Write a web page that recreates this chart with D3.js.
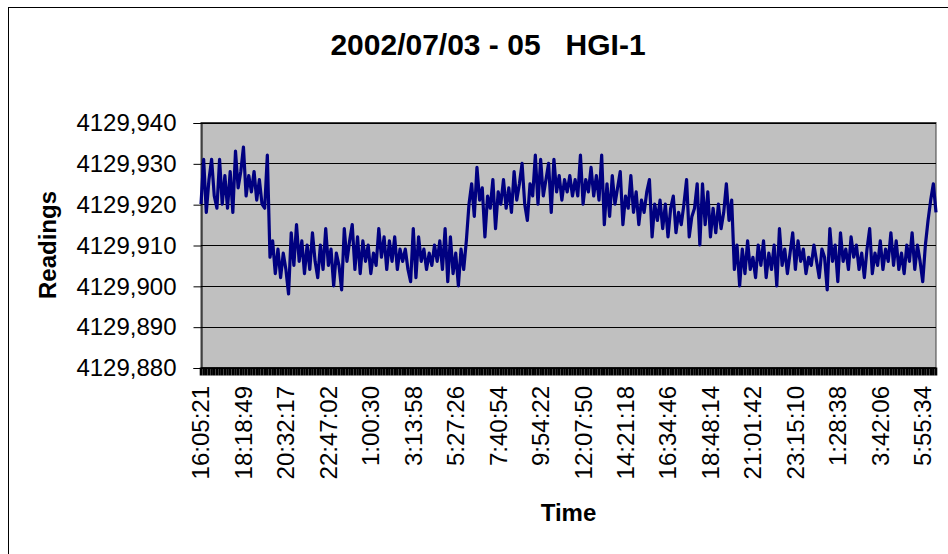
<!DOCTYPE html>
<html>
<head>
<meta charset="utf-8">
<script src="https://cdn.jsdelivr.net/npm/d3@7"></script>
<style>
  body { margin: 0; background: #fff; }
  svg { display: block; font-family: "Liberation Sans", Arial, sans-serif; }
</style>
</head>
<body>
<svg id="chart" width="948" height="554"></svg>
<script>
const chartTitle = "2002/07/03 - 05   HGI-1";

// category labels shown on the time axis (one every pointsPerLabel readings)
const timeLabels = ["16:05:21", "18:18:49", "20:32:17", "22:47:02", "1:00:30", "3:13:58",
    "5:27:26", "7:40:54", "9:54:22", "12:07:50", "14:21:18", "16:34:46", "18:48:14",
    "21:01:42", "23:15:10", "1:28:38", "3:42:06", "5:55:34"];
const pointsPerLabel = 16;

const yTicks = [4129.880, 4129.890, 4129.900, 4129.910, 4129.920, 4129.930, 4129.940];

// readings
const readings = [
    4129.920, 4129.931, 4129.918, 4129.926, 4129.931, 4129.922, 4129.919, 4129.931, 4129.920, 4129.927,
    4129.919, 4129.928, 4129.918, 4129.933, 4129.924, 4129.928, 4129.934, 4129.922, 4129.927, 4129.923,
    4129.928, 4129.921, 4129.926, 4129.920, 4129.919, 4129.932,
    4129.907, 4129.911, 4129.903, 4129.909, 4129.902, 4129.908, 4129.904, 4129.898, 4129.913, 4129.905,
    4129.915, 4129.906, 4129.911, 4129.903, 4129.910, 4129.904, 4129.913, 4129.906, 4129.902, 4129.910,
    4129.904,
    4129.914, 4129.905, 4129.909, 4129.900, 4129.908, 4129.905, 4129.899, 4129.914, 4129.906, 4129.911,
    4129.915, 4129.904, 4129.912, 4129.903, 4129.911, 4129.906, 4129.910, 4129.903, 4129.908, 4129.905,
    4129.914, 4129.907, 4129.912, 4129.904, 4129.911, 4129.906, 4129.912, 4129.904, 4129.909, 4129.906,
    4129.909, 4129.904, 4129.901, 4129.914, 4129.902, 4129.912, 4129.906, 4129.909, 4129.904, 4129.908,
    4129.905, 4129.910, 4129.906, 4129.911, 4129.904, 4129.914, 4129.901,
    4129.912, 4129.903, 4129.908, 4129.900, 4129.909, 4129.904, 4129.911, 4129.920, 4129.925, 4129.917,
    4129.929, 4129.921, 4129.924, 4129.912, 4129.922, 4129.919, 4129.926, 4129.914, 4129.923, 4129.920,
    4129.926, 4129.919, 4129.924, 4129.918, 4129.928, 4129.921, 4129.925, 4129.930, 4129.920, 4129.916,
    4129.925, 4129.922, 4129.932, 4129.920, 4129.931, 4129.922, 4129.926, 4129.930, 4129.918, 4129.931,
    4129.923, 4129.927, 4129.921, 4129.926, 4129.923, 4129.927, 4129.922,
    4129.926, 4129.922, 4129.932, 4129.920, 4129.926, 4129.923, 4129.929, 4129.922, 4129.927, 4129.921,
    4129.932, 4129.915, 4129.925, 4129.917, 4129.927, 4129.920, 4129.924, 4129.928, 4129.915, 4129.922,
    4129.919, 4129.927, 4129.918, 4129.923, 4129.915, 4129.921, 4129.918, 4129.923, 4129.926, 4129.912,
    4129.920, 4129.916, 4129.921, 4129.914, 4129.920, 4129.912, 4129.919, 4129.922, 4129.913, 4129.918,
    4129.915, 4129.920, 4129.926, 4129.912, 4129.917, 4129.919, 4129.925,
    4129.910, 4129.925, 4129.915, 4129.923, 4129.912, 4129.919, 4129.913, 4129.920, 4129.914, 4129.918,
    4129.925, 4129.916, 4129.921, 4129.904, 4129.910, 4129.900, 4129.909, 4129.903, 4129.911, 4129.904,
    4129.907, 4129.902, 4129.910, 4129.905, 4129.911, 4129.902, 4129.908, 4129.904, 4129.910, 4129.900,
    4129.914, 4129.905, 4129.909, 4129.903, 4129.908, 4129.913, 4129.904, 4129.911, 4129.906, 4129.909,
    4129.903, 4129.907, 4129.905, 4129.910, 4129.906, 4129.902, 4129.909,
    4129.907, 4129.899, 4129.914, 4129.906, 4129.910, 4129.901, 4129.913, 4129.906, 4129.909, 4129.904,
    4129.912, 4129.907, 4129.910, 4129.904, 4129.908, 4129.902, 4129.909, 4129.914, 4129.903, 4129.908,
    4129.905, 4129.911, 4129.904, 4129.909, 4129.906, 4129.913, 4129.905, 4129.911, 4129.904, 4129.908,
    4129.903, 4129.910, 4129.906, 4129.913, 4129.904, 4129.910, 4129.906, 4129.901, 4129.910, 4129.916,
    4129.921, 4129.925, 4129.918
];

class lineChart {
    constructor(_config, _data) {
        this.config = {
            parentElement: _config.parentElement,
            containerWidth: _config.containerWidth || 948,
            containerHeight: _config.containerHeight || 554,
            plot: _config.plot || {left: 201, right: 936, top: 122.5, bottom: 367.5}
        }
        this.data = _data;
        this.initVis();
    }

    initVis() {
        let vis = this;
        let p = vis.config.plot;

        vis.chart = d3.select(vis.config.parentElement)
            .attr("width", vis.config.containerWidth)
            .attr("height", vis.config.containerHeight);

        // outer chart border (runs off the right and bottom edges)
        vis.chart.append("rect")
            .attr("x", 8.5).attr("y", 7.5)
            .attr("width", 1000).attr("height", 1000)
            .attr("fill", "#fff")
            .attr("stroke", "#000");

        vis.xScale = d3.scaleLinear()
            .domain([0, vis.data.length - 1])
            .range([p.left, p.right]);

        vis.yScale = d3.scaleLinear()
            .domain([d3.min(yTicks), d3.max(yTicks)])
            .range([p.bottom, p.top]);

        vis.chart.append("rect")
            .attr("x", p.left).attr("y", p.top)
            .attr("width", p.right - p.left).attr("height", p.bottom - p.top)
            .attr("fill", "#c0c0c0")
            .attr("stroke", "#404040");

        // gridlines
        vis.chart.append("g")
            .selectAll("line")
            .data(yTicks)
            .join("line")
                .attr("x1", p.left).attr("x2", p.right)
                .attr("y1", d => Math.round(vis.yScale(d)) + 0.5)
                .attr("y2", d => Math.round(vis.yScale(d)) + 0.5)
                .attr("stroke", "#000");

        // y axis
        let yAxis = d3.axisLeft(vis.yScale)
            .tickValues(yTicks)
            .tickSize(8)
            .tickPadding(17)
            .tickFormat(d => d3.format(".3f")(d).replace(".", ","));

        vis.chart.append("g")
            .attr("transform", `translate(${p.left + 0.5}, 0.5)`)
            .call(yAxis)
            .call(g => g.select(".domain").attr("stroke", "#000"))
            .call(g => g.selectAll("text")
                .attr("font-size", 24)
                .attr("font-family", "'Liberation Sans', Arial, sans-serif")
                .attr("fill", "#000"));

        // category ticks, one per reading -> dense black band
        vis.chart.append("g")
            .selectAll("line")
            .data(d3.range(vis.data.length))
            .join("line")
                .attr("x1", d => vis.xScale(d)).attr("x2", d => vis.xScale(d))
                .attr("y1", p.bottom).attr("y2", p.bottom + 8)
                .attr("stroke", "#000")
                .attr("stroke-width", 2.6);

        vis.chart.append("line")
            .attr("x1", p.left).attr("x2", p.right)
            .attr("y1", p.bottom + 0.5).attr("y2", p.bottom + 0.5)
            .attr("stroke", "#000");

        // time labels
        vis.chart.append("g")
            .selectAll("text")
            .data(timeLabels)
            .join("text")
                .attr("transform", (d, i) => `translate(${vis.xScale(i * pointsPerLabel)}, 386) rotate(-90)`)
                .attr("dy", "0.35em")
                .attr("text-anchor", "end")
                .attr("font-size", 24)
                .text(d => d);

        // the series
        let line = d3.line()
            .x((d, i) => vis.xScale(i))
            .y(d => vis.yScale(d));

        vis.chart.append("path")
            .datum(vis.data)
            .attr("d", line)
            .attr("fill", "none")
            .attr("stroke", "#000080")
            .attr("stroke-width", 3.2)
            .attr("stroke-linejoin", "round");

        // titles
        vis.chart.append("text")
            .attr("x", 488).attr("y", 55)
            .attr("text-anchor", "middle")
            .attr("font-size", 30)
            .attr("font-weight", "bold")
            .style("white-space", "pre")
            .text(chartTitle);

        vis.chart.append("text")
            .attr("transform", `translate(56, ${(p.top + p.bottom) / 2}) rotate(-90)`)
            .attr("text-anchor", "middle")
            .attr("font-size", 24)
            .attr("font-weight", "bold")
            .text("Readings");

        vis.chart.append("text")
            .attr("x", (p.left + p.right) / 2).attr("y", 521)
            .attr("text-anchor", "middle")
            .attr("font-size", 24)
            .attr("font-weight", "bold")
            .text("Time");
    }
}

new lineChart({parentElement: "#chart"}, readings);
</script>
</body>
</html>
